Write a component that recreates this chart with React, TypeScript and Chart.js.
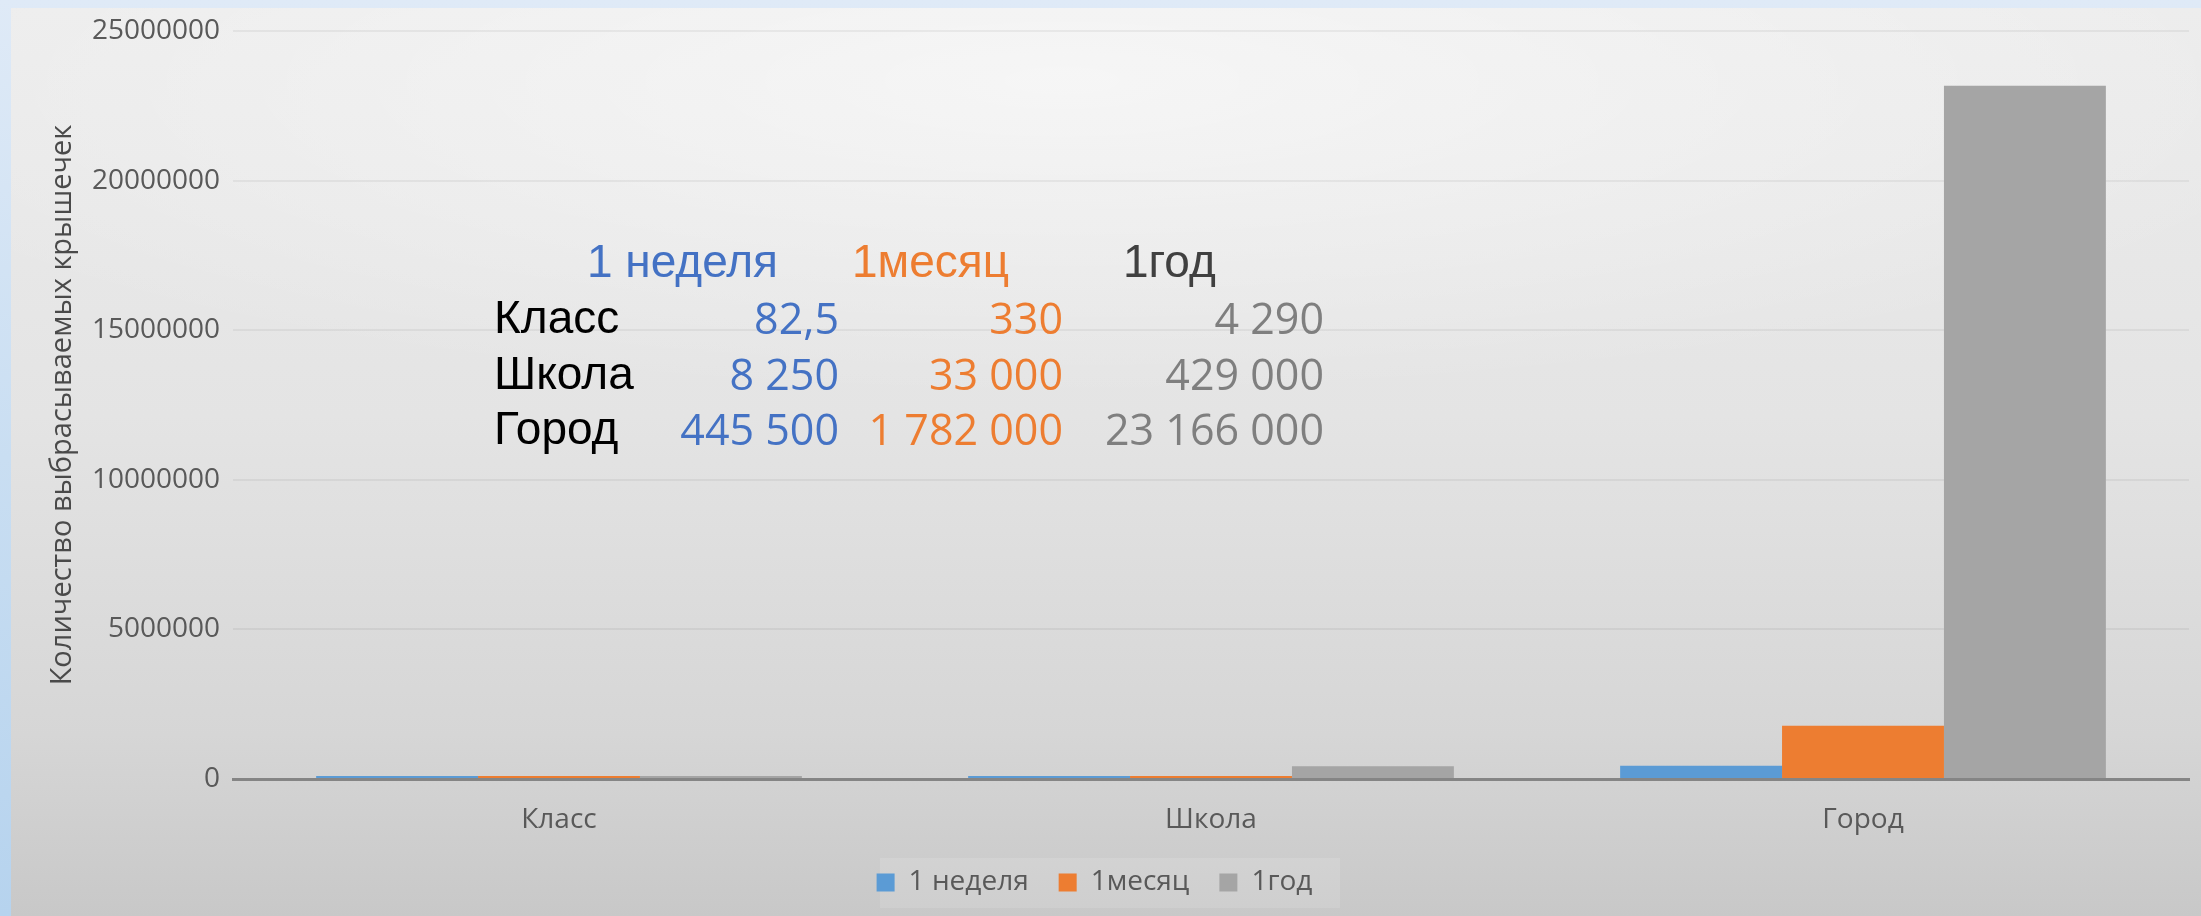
import React, { useEffect, useRef } from 'react';
import { Chart, registerables } from 'chart.js';

Chart.register(...registerables);

// ---- data ----
const categories = ['Класс', 'Школа', 'Город'];
const seriesNames = ['1 неделя', '1месяц', '1год'];
const weekValues = [82.5, 8250, 445500];
const monthValues = [330, 33000, 1782000];
const yearValues = [4290, 429000, 23166000];
const yTickValues = [0, 5000000, 10000000, 15000000, 20000000, 25000000];
const yAxisTitle = 'Количество выбрасываемых крышечек';

// ---- styles ----
const seriesColors = ['#5b9bd5', '#ed7d31', '#a5a5a5'];
const headerColors = ['#4472c4', '#ed7d31', '#404040'];
const valueColors = ['#4472c4', '#ed7d31', '#7f7f7f'];
const axisTextColor = '#595959';
const W = 2201;
const H = 916;

function fmt(v: number): string {
  const [i, d] = String(v).split('.');
  const g = i.replace(/\B(?=(\d{3})+(?!\d))/g, ' ');
  return d ? g + ',' + d : g;
}

const allSeries = [weekValues, monthValues, yearValues];

export default function App() {
  const ref = useRef<HTMLCanvasElement | null>(null);

  useEffect(() => {
    document.body.style.margin = '0';
    document.documentElement.style.overflow = 'hidden';
    const canvas = ref.current;
    if (!canvas) return;
    const tickFont = { family: "'Open Sans', sans-serif", size: 28 };
    const chart = new Chart(canvas, {
      type: 'bar',
      data: {
        labels: categories,
        datasets: allSeries.map((d, i) => ({
          label: seriesNames[i],
          data: d,
          backgroundColor: seriesColors[i],
          borderWidth: 0,
          minBarLength: 3,
          categoryPercentage: 0.745,
          barPercentage: 1,
        })),
      },
      options: {
        responsive: false,
        animation: false,
        devicePixelRatio: 1,
        layout: { padding: { top: 31, right: 12, left: 0, bottom: 9.5 } },
        plugins: {
          legend: {
            position: 'bottom',
            labels: {
              font: tickFont,
              color: axisTextColor,
              boxWidth: 18,
              boxHeight: 18,
              padding: 30,
            },
          },
          tooltip: { enabled: false },
        },
        scales: {
          x: {
            grid: { display: false, drawTicks: false },
            border: { display: true, color: '#858585', width: 3 },
            ticks: { font: tickFont, color: axisTextColor, padding: 24 },
            afterFit: (s: any) => {
              s.height = 59.5;
            },
          },
          y: {
            min: 0,
            max: 25000000,
            afterBuildTicks: (s: any) => {
              s.ticks = yTickValues.map((v) => ({ value: v }));
            },
            ticks: {
              font: tickFont,
              color: axisTextColor,
              padding: 13,
              callback: (v: any) => String(v),
            },
            grid: { color: 'rgba(0,0,0,0.05)', lineWidth: 2, drawTicks: false },
            border: { display: false },
            title: {
              display: true,
              text: yAxisTitle,
              font: { family: "'Open Sans', sans-serif", size: 29 },
              color: '#4a4a4a',
              padding: { top: 45, bottom: 0 },
            },
            afterFit: (s: any) => {
              s.width = 233;
            },
          },
        },
      },
    } as any);
    return () => chart.destroy();
  }, []);

  const headerLefts = [587, 852, 1123];
  const valueRights = [839, 1063, 1324];
  const rowCenters = [317, 373, 428];
  const headerCenter = 261;
  const labelFont = "'Liberation Sans', Arial, sans-serif";
  const valueFont = "'Open Sans', sans-serif";

  return (
    <div
      style={{
        position: 'absolute',
        left: 0,
        top: 0,
        width: W,
        height: H,
        overflow: 'hidden',
        background: 'linear-gradient(180deg, #dfeaf7 0%, #c9def2 50%, #b6d3ee 100%)',
      }}
    >
      <div
        style={{
          position: 'absolute',
          left: 11,
          top: 8,
          width: W - 11,
          height: H - 8,
          background:
            'radial-gradient(ellipse 60% 35% at 48% 8%, rgba(255,255,255,0.55), rgba(255,255,255,0) 100%), linear-gradient(180deg, #ececec 0%, #e4e4e4 45%, #d6d6d6 80%, #c8c8c8 100%)',
        }}
      />
      <div
        style={{
          position: 'absolute',
          left: 880,
          top: 858,
          width: 460,
          height: 50,
          background: 'rgba(255,255,255,0.12)',
        }}
      />
      <canvas
        ref={ref}
        width={W}
        height={H}
        style={{ position: 'absolute', left: 0, top: 0, width: W, height: H, display: 'block' }}
      />
      {seriesNames.map((n, i) => (
        <div
          key={'h' + i}
          style={{
            position: 'absolute',
            left: headerLefts[i],
            top: headerCenter,
            transform: 'translateY(-50%)',
            fontFamily: labelFont,
            fontSize: 46,
            lineHeight: 1,
            color: headerColors[i],
            whiteSpace: 'nowrap',
          }}
        >
          {n}
        </div>
      ))}
      {categories.map((c, r) => (
        <React.Fragment key={'r' + r}>
          <div
            style={{
              position: 'absolute',
              left: 494,
              top: rowCenters[r],
              transform: 'translateY(-50%)',
              fontFamily: labelFont,
              fontSize: 46,
              lineHeight: 1,
              color: '#000000',
              whiteSpace: 'nowrap',
            }}
          >
            {c}
          </div>
          {allSeries.map((s, i) => (
            <div
              key={'v' + r + '_' + i}
              style={{
                position: 'absolute',
                right: W - valueRights[i],
                top: rowCenters[r],
                transform: 'translateY(-50%)',
                fontFamily: valueFont,
                fontSize: 43,
                lineHeight: 1,
                color: valueColors[i],
                whiteSpace: 'nowrap',
                textAlign: 'right',
              }}
            >
              {fmt(s[r])}
            </div>
          ))}
        </React.Fragment>
      ))}
    </div>
  );
}
